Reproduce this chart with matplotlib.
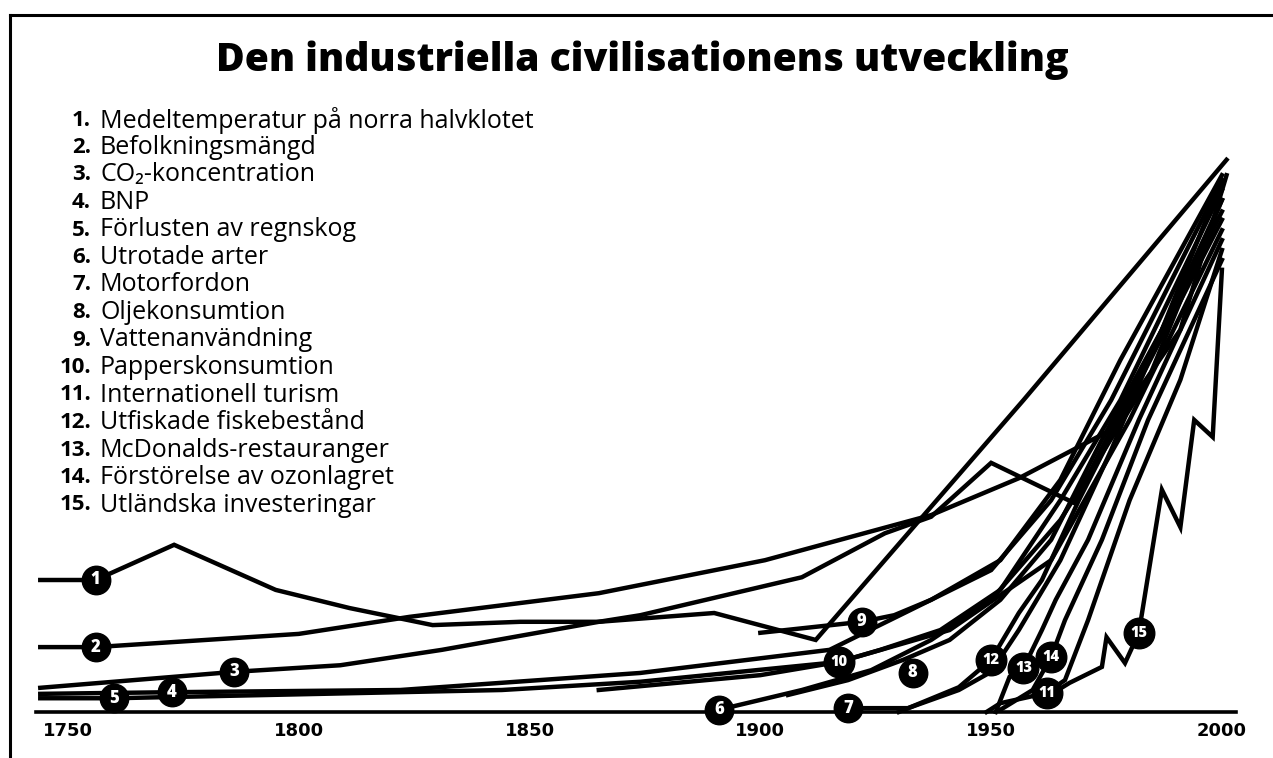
import matplotlib
matplotlib.use("Agg")
import matplotlib.pyplot as plt
from matplotlib.lines import Line2D

title = "Den industriella civilisationens utveckling"
series_names = [
    "Medeltemperatur på norra halvklotet",
    "Befolkningsmängd",
    "CO\u2082-koncentration",
    "BNP",
    "Förlusten av regnskog",
    "Utrotade arter",
    "Motorfordon",
    "Oljekonsumtion",
    "Vattenanvändning",
    "Papperskonsumtion",
    "Internationell turism",
    "Utfiskade fiskebestånd",
    "McDonalds-restauranger",
    "Förstörelse av ozonlagret",
    "Utländska investeringar",
]
tick_years = [1750, 1800, 1850, 1900, 1950, 2000]

s1_years = [1744, 1756, 1773, 1795, 1811, 1829, 1848, 1865, 1890, 1912, 1957, 2001]
s1_vals = [24, 24, 30.4, 22.2, 18.9, 15.8, 16.4, 16.4, 18, 13.1, 56.7, 100.4]
s2_years = [1744, 1756, 1800, 1824, 1865, 1901, 1937, 1956, 1976, 1991, 2001]
s2_vals = [11.8, 11.8, 14.2, 17.3, 21.6, 27.6, 35.8, 42.5, 51.3, 69.5, 97.6]
s3_years = [1744, 1786, 1809, 1831, 1865, 1874, 1909, 1927, 1937, 1950, 1968, 2000]
s3_vals = [4.4, 7.3, 8.5, 11.3, 16.4, 17.6, 24.5, 32.5, 35.5, 45.3, 38, 91]
s4_years = [1744, 1772.5, 1822, 1874, 1915, 1937, 1952, 1965, 1978, 2000]
s4_vals = [3.3, 3.6, 4.0, 7.1, 11.3, 20.4, 27.6, 42.2, 64, 97.6]
s5_years = [1744, 1760, 1844, 1874, 1917, 1941, 1963, 1980, 2000]
s5_vals = [2.5, 2.5, 4.0, 5.5, 9.1, 14.9, 27.6, 53.1, 87.6]
s6_years = [1891, 1909, 1924, 1937, 1950, 1965, 1984, 2000]
s6_vals = [0.4, 4.0, 7.6, 13.1, 20.4, 34.9, 60.4, 93.1]
s7_years = [1919, 1932, 1943, 1950, 1956, 1965, 1976, 1987, 2000]
s7_vals = [0.7, 0.7, 4.0, 7.3, 14.9, 27.6, 47.6, 69.5, 96.7]
s8_years = [1906, 1919, 1931, 1941, 1952, 1963, 1974, 1987, 2000]
s8_vals = [3.1, 5.8, 9.5, 13.1, 20.4, 31.3, 49.5, 69.5, 93.1]
s9_years = [1900, 1922, 1929, 1937, 1950, 1963, 1976, 2000]
s9_vals = [14.4, 16.4, 17.6, 20.4, 25.8, 38.5, 56.7, 96.7]
s10_years = [1865, 1900, 1917, 1926, 1939, 1952, 1965, 1978, 2000]
s10_vals = [4.0, 6.7, 9.1, 11.3, 14.9, 22.2, 38.5, 56.7, 94.9]
s11_years = [1949, 1952, 1958, 1962, 1966, 1971, 1980, 1991, 2000]
s11_vals = [0, 1.6, 2.7, 3.5, 5.8, 16.7, 38.5, 60.4, 84.0]
s12_years = [1930, 1943, 1950, 1956, 1961, 1969, 1980, 2000]
s12_vals = [0, 4.5, 9.5, 18, 24, 38.5, 56.7, 89.5]
s13_years = [1951, 1954, 1957, 1961, 1964, 1971, 1982, 2000]
s13_vals = [0, 6.4, 8.0, 14.9, 20.4, 31.3, 53.1, 85.8]
s14_years = [1952, 1959, 1963, 1966, 1974, 1984, 2000]
s14_vals = [0.4, 4.0, 10.0, 16.7, 31.3, 53.1, 82.2]
s15_years = [1961, 1967, 1974, 1975, 1979, 1982, 1987, 1991, 1994, 1998, 2000]
s15_vals = [2.2, 5.3, 8.2, 13.6, 8.9, 14.4, 40.4, 33.6, 53.1, 50, 80.4]

label_years = [1756, 1756, 1786, 1772.5, 1760, 1891, 1919, 1933, 1922, 1917, 1962, 1950, 1957, 1963, 1982]
label_vals = [24, 11.8, 7.3, 3.6, 2.5, 0.4, 0.7, 7.1, 16.4, 9.1, 3.5, 9.5, 8.0, 10.0, 14.4]

series = [
    (s1_years, s1_vals), (s2_years, s2_vals), (s3_years, s3_vals),
    (s4_years, s4_vals), (s5_years, s5_vals), (s6_years, s6_vals),
    (s7_years, s7_vals), (s8_years, s8_vals), (s9_years, s9_vals),
    (s10_years, s10_vals), (s11_years, s11_vals), (s12_years, s12_vals),
    (s13_years, s13_vals), (s14_years, s14_vals), (s15_years, s15_vals),
]

W, H = 1273, 758
fig = plt.figure(figsize=(W / 100, H / 100), dpi=100)
fig.patch.set_facecolor("white")

ax = fig.add_axes([21.8 / W, 46 / H, (1245 - 21.8) / W, 577.5 / H])
ax.set_xlim(1740, 2005)
ax.set_ylim(0, 105)

for yrs, vals in series:
    ax.plot(yrs, vals, color="black", lw=3.2, solid_joinstyle="miter",
            clip_on=False, zorder=2)

for i, (x, y) in enumerate(zip(label_years, label_vals)):
    ax.plot([x], [y], "o", ms=20.5 if i < 9 else 22, color="black",
            clip_on=False, zorder=5)
    ax.text(x, y, str(i + 1), color="white", ha="center", va="center",
            fontsize=12 if i < 9 else 10.5, fontweight="heavy", zorder=6,
            family=["Open Sans", "DejaVu Sans"])

for s in ["left", "top", "right"]:
    ax.spines[s].set_visible(False)
ax.spines["bottom"].set_linewidth(2.6)
ax.spines["bottom"].set_bounds(1743, 2003)
ax.set_yticks([])
ax.set_xticks(tick_years)
ax.set_xticklabels([str(t) for t in tick_years], fontweight="bold",
                   fontsize=13, family=["DejaVu Sans"])
ax.tick_params(axis="x", length=0, pad=7)
ax.patch.set_alpha(0)

# title
fig.text(642 / W, 1 - 60 / H, title, ha="center", va="center",
         fontsize=28.2, fontweight="heavy", family=["Open Sans", "DejaVu Sans"])

# numbered list
for i, name in enumerate(series_names):
    yp = 1 - (120 + i * 27.5) / H
    fig.text(91 / W, yp, f"{i + 1}.", ha="right", va="center",
             fontsize=16, fontweight="bold", family=["Open Sans", "DejaVu Sans"])
    fig.text(100 / W, yp, name, ha="left", va="center",
             fontsize=18, fontweight="medium", family=["Open Sans", "DejaVu Sans"])

# frame lines
fig.add_artist(Line2D([10 / W, 10 / W], [0, 1 - 15 / H], color="black", lw=2.2))
fig.add_artist(Line2D([10 / W, 1], [1 - 15 / H, 1 - 15 / H], color="black", lw=2.2))

fig.savefig("out.png", dpi=100, facecolor="white")
